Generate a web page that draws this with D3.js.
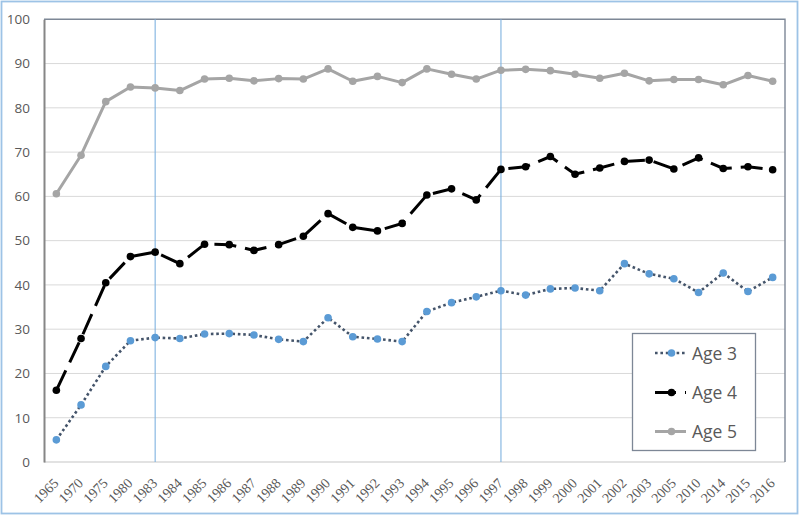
<!DOCTYPE html>
<html><head><meta charset="utf-8">
<script src="https://cdn.jsdelivr.net/npm/d3@7"></script>
<style>html,body{margin:0;padding:0;background:#fff;}svg{display:block;}</style>
</head><body>
<svg id="chart" width="800" height="516"></svg>
<script>
const years = ["1965","1970","1975","1980","1983","1984","1985","1986","1987","1988","1989","1990","1991","1992","1993","1994","1995","1996","1997","1998","1999","2000","2001","2002","2003","2005","2010","2014","2015","2016"];
const age3 = [5.0,12.9,21.6,27.4,28.1,27.9,28.9,29.0,28.7,27.7,27.2,32.6,28.3,27.8,27.2,34.0,36.0,37.3,38.7,37.7,39.1,39.3,38.7,44.8,42.5,41.4,38.3,42.7,38.5,41.7];
const age4 = [16.2,27.9,40.5,46.4,47.4,44.8,49.2,49.1,47.8,49.1,51.0,56.1,53.0,52.2,53.9,60.3,61.7,59.2,66.1,66.7,69.0,65.0,66.4,67.9,68.2,66.2,68.7,66.3,66.7,66.0];
const age5 = [60.6,69.3,81.4,84.7,84.5,83.9,86.5,86.7,86.1,86.6,86.5,88.8,86.0,87.1,85.7,88.8,87.6,86.5,88.5,88.7,88.4,87.6,86.7,87.8,86.1,86.4,86.4,85.2,87.3,86.0];
const yTicks = [0,10,20,30,40,50,60,70,80,90,100];
const markerYears = ["1983","1997"];
const seriesNames = ["Age 3","Age 4","Age 5"];

const svg = d3.select("#chart");
const L = 44, R = 785, T = 19.3, B = 462;
const x = d3.scaleBand().domain(years).range([L, R]);
const y = d3.scaleLinear().domain([0, 100]).range([B, T]);
const cx = d => x(d) + x.bandwidth() / 2;

// outer border
svg.append("rect").attr("x", 1.5).attr("y", 1.5).attr("width", 796).attr("height", 512)
  .attr("fill", "#fff").attr("stroke", "#9dc3e6").attr("stroke-width", 1.8);

// gridlines
svg.append("g").selectAll("line").data(yTicks.filter(t => t > 0 && t < 100)).join("line")
  .attr("x1", L).attr("x2", R).attr("y1", d => y(d)).attr("y2", d => y(d))
  .attr("stroke", "#d9d9d9").attr("stroke-width", 1);

// bottom line
svg.append("line").attr("x1", L).attr("x2", R).attr("y1", B).attr("y2", B)
  .attr("stroke", "#d9d9d9").attr("stroke-width", 1.5);

// top & right borders
svg.append("path").attr("d", `M${L},${T}H${R}V${B}`).attr("fill", "none")
  .attr("stroke", "#7d8796").attr("stroke-width", 1.4);

// vertical marker lines
svg.append("g").selectAll("line").data(markerYears).join("line")
  .attr("x1", d => cx(d)).attr("x2", d => cx(d)).attr("y1", T).attr("y2", B)
  .attr("stroke", "#7fb2e0").attr("stroke-width", 1.1);

// left axis
const yAxis = d3.axisLeft(y).tickValues(yTicks).tickSize(0).tickPadding(14);
const gy = svg.append("g").attr("transform", `translate(${L},0)`).call(yAxis);
gy.select(".domain").attr("stroke", "#868686").attr("stroke-width", 2);
gy.selectAll("text").attr("fill", "#595959").style("font-family", "'Open Sans', sans-serif").style("font-size", "13.5px");

// x axis labels
const xAxis = d3.axisBottom(x).tickSize(0).tickPadding(0);
const gx = svg.append("g").attr("transform", `translate(0,${B})`).call(xAxis);
gx.select(".domain").remove();
gx.selectAll("text")
  .attr("fill", "#595959").style("font-family", "'Liberation Serif', 'Times New Roman', serif").style("font-size", "14px")
  .attr("text-anchor", "end").attr("y", 0).attr("dy", 0)
  .attr("transform", "translate(3,22) rotate(-45)");

const line = d3.line().x((d, i) => cx(years[i])).y(d => y(d));

// Age 5
svg.append("path").datum(age5).attr("d", line).attr("fill", "none")
  .attr("stroke", "#a5a5a5").attr("stroke-width", 3).attr("stroke-linejoin", "round");
svg.append("g").selectAll("circle").data(age5).join("circle")
  .attr("cx", (d, i) => cx(years[i])).attr("cy", d => y(d)).attr("r", 3.8).attr("fill", "#a5a5a5");

// Age 4
svg.append("path").datum(age4).attr("d", line).attr("fill", "none")
  .attr("stroke", "#000").attr("stroke-width", 3).attr("stroke-dasharray", "22,9");
svg.append("g").selectAll("circle").data(age4).join("circle")
  .attr("cx", (d, i) => cx(years[i])).attr("cy", d => y(d)).attr("r", 3.8).attr("fill", "#000");

// Age 3
svg.append("path").datum(age3).attr("d", line).attr("fill", "none")
  .attr("stroke", "#44546a").attr("stroke-width", 2.6).attr("stroke-dasharray", "2.6,2.8");
svg.append("g").selectAll("circle").data(age3).join("circle")
  .attr("cx", (d, i) => cx(years[i])).attr("cy", d => y(d)).attr("r", 3.8).attr("fill", "#5b9bd5");

// legend
const lg = svg.append("g");
lg.append("rect").attr("x", 632.5).attr("y", 333.5).attr("width", 123).attr("height", 117)
  .attr("fill", "#fff").attr("stroke", "#7d8796").attr("stroke-width", 1.3);
const legendStyles = [
  {stroke: "#44546a", dash: "2.6,2.8", w: 2.6, fill: "#5b9bd5"},
  {stroke: "#000", dash: "21,9", w: 3, fill: "#000"},
  {stroke: "#a5a5a5", dash: null, w: 3, fill: "#a5a5a5"}
];
const legendY = [353, 392.5, 431.5];
seriesNames.forEach((name, i) => {
  const s = legendStyles[i];
  const g = lg.append("g").attr("transform", `translate(0,${legendY[i]})`);
  g.append("line").attr("x1", 655).attr("x2", 686).attr("y1", 0).attr("y2", 0)
    .attr("stroke", s.stroke).attr("stroke-width", s.w).attr("stroke-dasharray", s.dash);
  g.append("circle").attr("cx", 671.5).attr("cy", 0).attr("r", 3.8).attr("fill", s.fill);
  g.append("text").attr("x", 692).attr("y", 6.5).text(name)
    .attr("fill", "#595959").style("font-family", "'Open Sans', sans-serif").style("font-size", "17.5px");
});
</script>
</body></html>
